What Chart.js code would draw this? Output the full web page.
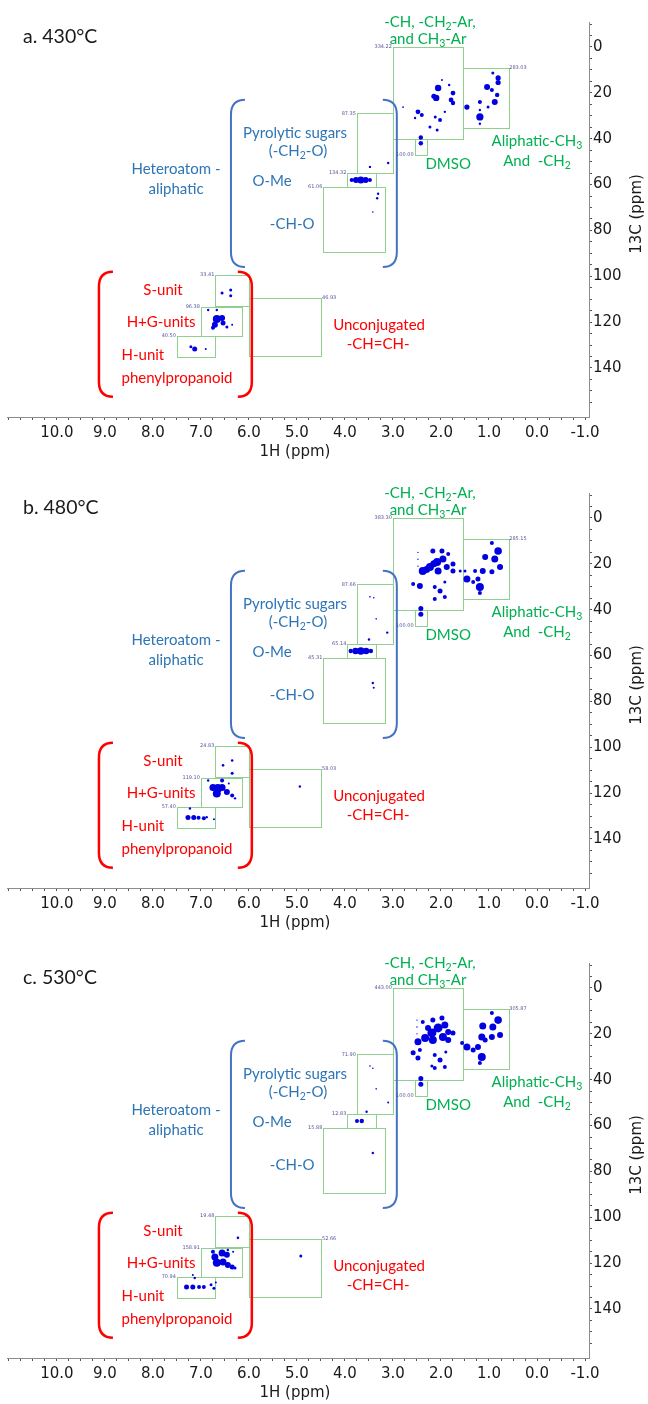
<!DOCTYPE html>
<html>
<head>
<meta charset="utf-8">
<script src="https://cdn.jsdelivr.net/npm/chart.js@4.4.1/dist/chart.umd.min.js"></script>
<style>
  body { margin: 0; background: #fff; width: 648px; height: 1404px; position: relative; overflow: hidden; }
  .panel { position: absolute; left: 0; width: 648px; height: 470px; }
</style>
</head>
<body>
<div class="panel" style="top:0"><canvas id="chart430" width="648" height="470"></canvas></div>
<div class="panel" style="top:471px"><canvas id="chart480" width="648" height="470"></canvas></div>
<div class="panel" style="top:941px"><canvas id="chart530" width="648" height="470"></canvas></div>
<script>
// =============================================
// HSQC NMR spectra of pyrolysis oils (Chart.js)
// =============================================

// axis tick labels (ppm)
const X_LABELS = [10, 9, 8, 7, 6, 5, 4, 3, 2, 1, 0, -1];
const Y_LABELS = [0, 20, 40, 60, 80, 100, 120, 140];

// integration regions: 1H from/to, 13C from/to
const REGION_H_FROM = [3.0, 1.55, 2.55, 3.75, 3.95, 4.45, 6.7, 7.0, 7.5, 6.0];
const REGION_H_TO   = [1.55, 0.6, 2.3, 3.0, 3.35, 3.15, 6.0, 6.15, 6.7, 4.5];
const REGION_C_FROM = [0, 9, 40, 29, 55, 61, 99.5, 113.5, 126, 109.5];
const REGION_C_TO   = [40, 35, 47, 55, 61, 89.5, 113, 126, 135, 135];
const REGION_TAG_AT = ['tl', 'tr', 'bl', 'tl', 'tl', 'tl', 'tl', 'tl', 'tl', 'tr'];

// integral values per temperature
const INTEGRALS_430 = ['334.22', '283.03', '100.00', '87.35', '134.32', '61.06', '33.41', '96.38', '40.50', '46.93'];
const INTEGRALS_480 = ['383.30', '285.15', '100.00', '87.66', '65.14', '45.31', '24.83', '119.10', '57.40', '58.03'];
const INTEGRALS_530 = ['443.00', '305.87', '100.00', '71.90', '12.83', '15.88', '19.48', '158.91', '70.94', '52.66'];

const TITLES = ['a. 430°C', 'b. 480°C', 'c. 530°C'];

// cross peaks: 1H ppm, 13C ppm, relative intensity
const H_430 = [
  2.06, 2.10, 2.15, 1.75, 1.83, 1.98, 1.79, 1.75, 2.48, 2.40, 2.54, 2.79, 2.12, 2.02, 1.92, 2.23, 2.08,
  0.92, 0.81, 0.81, 1.04, 0.94, 0.83, 0.88, 1.46, 1.19, 1.19, 1.19, 1.19, 1.02,
  2.42, 2.42,
  3.10, 3.48,
  3.86, 3.77, 3.67, 3.57, 3.48,
  3.31, 3.33, 3.42,
  6.56, 6.38, 6.38,
  6.85, 6.67, 6.67, 6.56, 6.71, 6.54, 6.46, 6.35, 6.75,
  7.21, 7.13, 6.90];
const C_430 = [
  17.9, 22.2, 21.5, 20.1, 16.6, 14.4, 23.1, 24.4, 28.3, 29.7, 31.0, 26.2, 30.5, 31.8, 28.3, 34.9, 36.2,
  11.3, 13.5, 15.5, 17.4, 18.8, 20.9, 24.0, 26.2, 24.0, 30.5, 27.5, 33.5, 26.2,
  39.5, 42.0,
  50.6, 52.3,
  58, 58, 58, 58, 58,
  64.0, 66.0, 72.0,
  107.3, 106.0, 108.5,
  114.7, 114.7, 118.6, 118.2, 121.2, 120.4, 122.1, 121.2, 122.5,
  130.8, 131.7, 131.7];
const I_430 = [
  3.2, 3.2, 2.5, 2.4, 1.2, 1.0, 2.4, 2.2, 2.4, 2.0, 1.2, 0.9, 1.5, 2.0, 1.2, 1.5, 1.5,
  1.5, 2.6, 2.6, 3.0, 2.0, 2.2, 3.0, 2.6, 2.0, 3.6, 1.2, 1.2, 1.5,
  2.2, 2.2,
  1.2, 1.2,
  2, 3, 3.5, 3, 2,
  1.2, 1.2, 0.8,
  1.5, 1.5, 1.5,
  1.2, 1.2, 4.0, 3.0, 3.0, 2.5, 1.5, 1.0, 2.0,
  1.5, 2.5, 1.0];

const H_480 = [
  2.17, 1.98, 2.38, 2.23, 2.08, 1.96, 2.06, 1.88, 1.85, 1.75, 1.75, 2.58, 2.44, 2.13, 2.02, 1.92, 2.13, 1.92, 2.48, 2.48, 2.48, 2.30, 2.15,
  0.94, 0.81, 1.08, 0.88, 0.77, 1.13, 0.94, 1.46, 1.33, 1.19, 1.23, 1.29, 1.50, 1.19, 1.60,
  2.42, 2.42,
  3.48, 3.40, 3.35, 3.12, 3.50,
  3.88, 3.78, 3.67, 3.56, 3.46,
  3.42, 3.40,
  6.54, 6.35, 6.35,
  6.85, 6.65, 6.75, 6.56, 6.67, 6.46, 6.35, 6.29, 6.56, 6.42,
  7.27, 7.15, 7.05, 6.94, 6.88, 7.23, 6.73,
  4.94];
const C_480 = [
  14.4, 14.4, 23.1, 21.4, 19.2, 17.9, 23.1, 21.4, 15.7, 20.1, 23.1, 28.8, 29.7, 30.1, 31.8, 27.9, 35.3, 34.5, 15, 18, 21, 22.5, 20,
  10.9, 14.4, 17.0, 17.9, 21.4, 23.1, 23.5, 26.6, 27.9, 30.1, 26.6, 23.1, 23.1, 32.7, 23.1,
  39.5, 42,
  34.4, 34.8, 44, 50, 53,
  58, 58, 58, 58, 58,
  72, 74,
  107.9, 105.8, 111.4,
  114.5, 118, 117.6, 117.6, 120.2, 119.5, 121, 122.3, 114.5, 115.8,
  130.6, 130.6, 130.8, 131, 130.5, 126.7, 131.4,
  117.1];
const I_480 = [
  2.5, 2.5, 4, 4, 4, 3.5, 3.5, 3, 2, 2.5, 2.5, 2, 3, 2, 2.5, 1.5, 2, 2, 0.7, 0.7, 0.7, 3.5, 3.5,
  2, 3.8, 3, 3.5, 3, 3, 2.5, 3.5, 2, 4, 2.5, 2, 1.5, 2, 1.5,
  2.5, 2.5,
  0.8, 0.8, 0.8, 1.2, 1.2,
  2.2, 3.2, 3.8, 3.2, 2.2,
  1.2, 1,
  1.3, 1.3, 1.5,
  1.2, 4.5, 3.5, 3.5, 4, 3, 2, 1.2, 2, 1,
  2.5, 2.5, 2, 2, 1.2, 1.2, 1,
  1.2];

const H_530 = [
  2.38, 2.17, 1.98, 2.48, 2.33, 2.19, 2.06, 1.92, 2.17, 1.96, 2.27, 1.85, 1.75, 1.85, 2.58, 2.44, 2.48, 2.13, 2.02, 1.90, 2.13, 1.92, 2.19, 2.50, 2.50, 2.50,
  0.94, 0.81, 1.13, 0.92, 0.77, 1.15, 0.94, 1.46, 1.33, 1.15, 1.23, 1.56, 1.08, 1.19,
  2.42, 2.42,
  3.48, 3.42, 3.35, 3.10, 3.55,
  3.75, 3.65,
  3.42,
  6.23,
  6.71, 6.56, 6.46, 6.67, 6.54, 6.44, 6.35, 6.29, 6.75, 6.44, 6.33,
  7.17, 7.13, 7.30, 7.17, 7.04, 6.94, 6.79, 6.73, 6.69,
  4.92];
const C_530 = [
  14.8, 14.0, 13.1, 23.5, 21.8, 19.6, 17.4, 16.1, 22.7, 21.4, 17.4, 19.2, 19.6, 22.7, 28.3, 27.0, 30.5, 29.2, 31.4, 27.9, 34.9, 34.5, 34.0, 14, 17, 20,
  10.9, 14.0, 16.6, 17.0, 20.5, 21.4, 21.4, 25.7, 27.0, 30.1, 25.7, 24.0, 22.7, 32.7,
  39.5, 42,
  34, 35, 44, 50, 54,
  58, 58,
  72,
  109,
  117.3, 115.6, 116.4, 119.9, 119.5, 120.8, 121.7, 122.1, 115.1, 114.3, 115.1,
  125.2, 126.5, 130.4, 130.4, 130.4, 130.4, 129.5, 131, 128.5,
  116.9];
const I_530 = [
  2, 2.5, 2.5, 3.5, 4, 4.5, 4.5, 3.5, 4, 4, 3, 3, 2.5, 3, 2.5, 2, 2.5, 2, 2.5, 1.5, 2, 2, 1.5, 0.7, 0.7, 0.7,
  2, 3.8, 3.5, 3.5, 3, 3.5, 3, 3.5, 2.5, 4, 3, 2, 2.5, 2,
  2.5, 2.5,
  0.8, 0.8, 0.8, 1, 1.2,
  2, 2.2,
  1.2,
  1.3,
  3.5, 3.5, 3, 4, 3.5, 3, 2.5, 1.5, 2, 1.2, 1,
  1, 1.2, 2.5, 2.5, 2, 2, 1.5, 1.5, 1,
  1.5];

// annotations ("_n" = subscript n), anchored in ppm
const NOTE_TEXT = ['-CH, -CH_2-Ar,', 'and CH_3-Ar', 'Aliphatic-CH_3', 'And  -CH_2', 'DMSO',
  'Pyrolytic sugars', '(-CH_2-O)', 'Heteroatom -', 'aliphatic', 'O-Me', '-CH-O',
  'S-unit', 'H+G-units', 'H-unit', 'phenylpropanoid', 'Unconjugated', '-CH=CH-'];
const NOTE_H = [2.23, 2.27, 0.0, 0.0, 1.85, 5.04, 4.98, 7.52, 7.52, 5.52, 5.10, 7.79, 7.83, 8.21, 7.5, 3.29, 3.31];
const NOTE_C = [-10.9, -3.5, 41.0, 49.7, 51.0, 37.5, 45.4, 53.2, 61.9, 58.4, 77.2, 106.0, 119.9, 134.3, 144.4, 121.2, 129.5];
const NOTE_KIND = ['g', 'g', 'g', 'g', 'g', 'b', 'b', 'b', 'b', 'b', 'b', 'r', 'r', 'r', 'r', 'r', 'r'];

// brackets grouping heteroatom (blue) and aromatic (red) regions
const BRACKET_H_LEFT  = [6.375, 9.125];
const BRACKET_H_RIGHT = [2.92, 5.94];
const BRACKET_C_TOP   = [23, 98];
const BRACKET_C_BOT   = [96, 152.6];
const BRACKET_KIND    = ['b', 'r'];

const COLORS = {
  g: '#00b050',
  b: '#2e75b6',
  r: '#ff0000',
  bracketB: '#4472c4',
  box: '#8fd08f',
  peak: '#0000e0',
  integral: '#55559a',
  axis: '#8c8c8c',
  tick: '#555',
  text: '#1a1a1a',
};
const NOTE_FONT = 'Lato, "Open Sans", sans-serif';
const AXIS_FONT = '"DejaVu Sans", Verdana, sans-serif';

function drawRich(ctx, str, x, y, size, color) {
  const parts = str.split(/_(\d)/);
  let w = 0;
  parts.forEach((p, i) => {
    ctx.font = `${i % 2 ? size * 0.7 : size}px ${NOTE_FONT}`;
    w += ctx.measureText(p).width;
  });
  let cx = x - w / 2;
  ctx.fillStyle = color;
  ctx.textAlign = 'left';
  ctx.textBaseline = 'middle';
  parts.forEach((p, i) => {
    const sub = i % 2 === 1;
    ctx.font = `${sub ? size * 0.7 : size}px ${NOTE_FONT}`;
    ctx.fillText(p, cx, sub ? y + size * 0.28 : y);
    cx += ctx.measureText(p).width;
  });
}

function drawBracket(ctx, x, top, bot, side) {
  const w = 14, h = 15, d = side === 'left' ? 1 : -1;
  ctx.beginPath();
  ctx.moveTo(x + d * w, top);
  ctx.quadraticCurveTo(x, top, x, top + h);
  ctx.lineTo(x, bot - h);
  ctx.quadraticCurveTo(x, bot, x + d * w, bot);
  ctx.stroke();
}

const decor = {
  id: 'decor',
  beforeDatasetsDraw(chart, args, opts) {
    const { ctx } = chart;
    const xs = chart.scales.x, ys = chart.scales.y;
    ctx.save();
    // integration boxes
    ctx.strokeStyle = COLORS.box;
    ctx.lineWidth = 1;
    REGION_H_FROM.forEach((h0, i) => {
      const xa = xs.getPixelForValue(h0), xb = xs.getPixelForValue(REGION_H_TO[i]);
      const ya = ys.getPixelForValue(REGION_C_FROM[i]), yb = ys.getPixelForValue(REGION_C_TO[i]);
      const l = Math.round(Math.min(xa, xb)) + 0.5, t = Math.round(Math.min(ya, yb)) + 0.5;
      ctx.strokeRect(l, t, Math.round(Math.abs(xb - xa)), Math.round(Math.abs(yb - ya)));
    });
    // brackets
    BRACKET_H_LEFT.forEach((h, i) => {
      ctx.strokeStyle = BRACKET_KIND[i] === 'b' ? COLORS.bracketB : COLORS.r;
      ctx.lineWidth = BRACKET_KIND[i] === 'b' ? 2 : 2.5;
      const top = ys.getPixelForValue(BRACKET_C_TOP[i]), bot = ys.getPixelForValue(BRACKET_C_BOT[i]);
      drawBracket(ctx, xs.getPixelForValue(h), top, bot, 'left');
      drawBracket(ctx, xs.getPixelForValue(BRACKET_H_RIGHT[i]), top, bot, 'right');
    });
    ctx.restore();
  },
  afterDraw(chart, args, opts) {
    const { ctx, chartArea } = chart;
    const xs = chart.scales.x, ys = chart.scales.y;
    ctx.save();
    // integral values at box corners
    ctx.font = `5px ${AXIS_FONT}`;
    ctx.fillStyle = COLORS.integral;
    ctx.textBaseline = 'middle';
    REGION_H_FROM.forEach((h0, i) => {
      const xa = xs.getPixelForValue(h0), xb = xs.getPixelForValue(REGION_H_TO[i]);
      const ya = ys.getPixelForValue(REGION_C_FROM[i]), yb = ys.getPixelForValue(REGION_C_TO[i]);
      const l = Math.min(xa, xb), r = Math.max(xa, xb), t = Math.min(ya, yb), b = Math.max(ya, yb);
      const at = REGION_TAG_AT[i];
      if (at === 'tr') { ctx.textAlign = 'left'; ctx.fillText(opts.integrals[i], r + 1, t); }
      else { ctx.textAlign = 'right'; ctx.fillText(opts.integrals[i], l - 1, at === 'bl' ? b : t); }
    });
    // annotations
    NOTE_TEXT.forEach((s, i) => {
      drawRich(ctx, s, xs.getPixelForValue(NOTE_H[i]), ys.getPixelForValue(NOTE_C[i]), 15, COLORS[NOTE_KIND[i]]);
    });
    // panel title
    ctx.fillStyle = COLORS.text;
    ctx.font = `19.5px ${NOTE_FONT}`;
    ctx.textAlign = 'left';
    ctx.textBaseline = 'middle';
    ctx.fillText(opts.title, 23, 37);
    // axis titles
    ctx.font = `15px ${AXIS_FONT}`;
    ctx.textAlign = 'center';
    ctx.fillText('1H (ppm)', (chartArea.left + chartArea.right) / 2 - 3, 452);
    ctx.translate(637, 214);
    ctx.rotate(-Math.PI / 2);
    ctx.fillText('13C (ppm)', 0, 0);
    ctx.restore();
  }
};

function makePanel(id, title, H, C, I, integrals) {
  const points = H.map((h, i) => ({ x: h, y: C[i] }));
  return new Chart(document.getElementById(id), {
    type: 'scatter',
    data: {
      datasets: [{
        data: points,
        backgroundColor: COLORS.peak,
        borderWidth: 0,
        pointRadius: I.map(v => v),
        pointHoverRadius: I.map(v => v),
      }]
    },
    options: {
      responsive: false,
      animation: false,
      events: [],
      layout: { padding: { left: 7, top: 22, right: 0, bottom: 0 } },
      plugins: {
        legend: { display: false },
        tooltip: { enabled: false },
        decor: { title, integrals },
      },
      scales: {
        x: {
          type: 'linear',
          position: 'bottom',
          reverse: true,
          min: -1.083,
          max: 11.04,
          afterBuildTicks(scale) {
            const t = [];
            for (let v = -1; v <= 11; v += 0.25) t.push({ value: v });
            scale.ticks = t;
          },
          afterFit(scale) { scale.height = 53; },
          ticks: {
            autoSkip: false,
            maxRotation: 0,
            padding: 4,
            color: COLORS.text,
            font: { family: AXIS_FONT, size: 15 },
            callback: v => X_LABELS.includes(v) ? v.toFixed(1) : '',
          },
          grid: { display: true, drawOnChartArea: false, tickLength: 3, color: COLORS.tick },
          border: { display: true, color: COLORS.axis },
        },
        y: {
          type: 'linear',
          position: 'right',
          reverse: true,
          min: -10.9,
          max: 161.4,
          afterBuildTicks(scale) {
            const t = [];
            for (let v = -10; v <= 155; v += 5) t.push({ value: v });
            scale.ticks = t;
          },
          afterFit(scale) { scale.width = 59; },
          ticks: {
            autoSkip: false,
            padding: 1,
            color: COLORS.text,
            font: { family: AXIS_FONT, size: 15 },
            callback: v => Y_LABELS.includes(v) ? String(v) : '',
          },
          grid: { display: true, drawOnChartArea: false, tickLength: 3, color: COLORS.tick },
          border: { display: true, color: COLORS.axis },
        }
      }
    },
    plugins: [decor]
  });
}

makePanel('chart430', TITLES[0], H_430, C_430, I_430, INTEGRALS_430);
makePanel('chart480', TITLES[1], H_480, C_480, I_480, INTEGRALS_480);
makePanel('chart530', TITLES[2], H_530, C_530, I_530, INTEGRALS_530);
</script>
</body>
</html>
